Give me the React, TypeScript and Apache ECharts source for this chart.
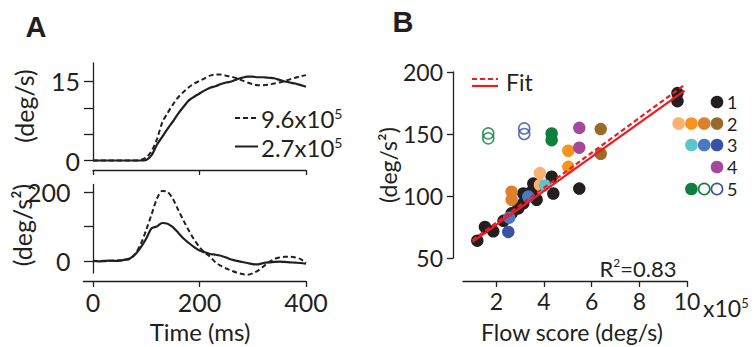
import React, { useEffect, useRef } from "react";
import * as echarts from "echarts";

const FONT = "Lato, 'Open Sans', sans-serif";
const INK = "#231f20";
const RED = "#ed1c24";

// Panel A: time (ms)
const times = [0, 10, 20, 30, 40, 50, 60, 70, 80, 90, 100, 110, 120, 130, 140, 150, 160, 170, 180, 190, 200, 210, 220, 230, 240, 250, 260, 270, 280, 290, 300, 310, 320, 330, 340, 350, 360, 370, 380, 390, 400];
// eye velocity (deg/s)
const velFast = [0, 0, 0, 0, 0, 0, 0, 0, 0, 0.1, 0.6, 1.8, 4.0, 7.2, 9.0, 10.6, 12.0, 13.0, 13.9, 14.6, 15.1, 15.6, 16.1, 16.3, 16.3, 16.1, 15.9, 15.6, 15.2, 14.8, 14.5, 14.3, 14.3, 14.4, 14.6, 14.8, 15.1, 15.4, 15.7, 16.0, 16.2];
const velSlow = [0, 0, 0, 0, 0, 0, 0, 0, 0, 0, 0.1, 1.0, 3.0, 4.5, 6.0, 7.4, 8.9, 10.2, 11.4, 12.1, 12.7, 13.3, 13.8, 14.1, 14.5, 14.8, 15.0, 15.4, 15.7, 15.9, 15.9, 15.8, 15.8, 15.7, 15.6, 15.3, 15.0, 14.8, 14.6, 14.3, 14.0];
// eye acceleration (deg/s^2)
const accFast = [0, 0, -1, 0, 1, 1, 3, 6, 22, 50, 90, 135, 180, 203, 200, 180, 148, 117, 88, 62, 40, 24, 12, -4, -14, -22, -28, -34, -38, -40, -36, -28, -16, -4, 5, 10, 12, 12, 10, 5, -6];
const accSlow = [0, -1, 0, 1, 0, 1, 4, 8, 20, 40, 65, 95, 100, 110, 108, 98, 82, 65, 52, 40, 30, 25, 20, 18, 15, 10, 4, 0, -3, -6, -9, -10, -6, -4, -3, -2, -3, -4, -5, -6, -8];

const velTicks = [0, 5, 10, 15];
const velLabels = [0, 15];
const accTicks = [0, 100, 200];
const accLabels = [0, 200];
const timeTicks = [0, 200, 400];

// Panel B: flow score (x10^5 deg/s) vs acceleration (deg/s^2)
const group1Black = [[1.2, 64], [1.52, 75], [1.87, 71.5], [2.3, 80], [2.64, 86], [2.92, 90], [3.13, 94], [3.13, 102], [3.48, 103.5], [3.55, 110], [3.69, 97], [4.32, 115.5], [4.39, 102], [5.48, 106], [9.6, 183], [9.6, 176.5]];
const group2LightOrange = [[3.83, 118.5], [3.83, 109]];
const group2Orange = [[5.02, 136.5], [5.02, 123.5]];
const group2DarkOrange = [[2.64, 103.5], [2.64, 97]];
const group2Brown = [[6.38, 154], [6.38, 134]];
const group3Teal = [[4.04, 108.5]];
const group3Blue = [[2.54, 82.5], [3.34, 99.5]];
const group3DarkBlue = [[2.5, 71]];
const group4Purple = [[5.48, 155], [5.48, 139]];
const group5Green = [[4.32, 150.5], [4.32, 145]];
const group5GreenOpen = [[1.66, 150.5], [1.66, 146.5]];
const group5BlueOpen = [[3.17, 154.5], [3.17, 150]];
const fitSolid = [[1.0, 63], [9.9, 185]];
const fitDashed = [[1.0, 64.5], [9.85, 189]];
const flowTicks = [2, 4, 6, 8, 10];
const accTicksB = [50, 100, 150, 200];
const rSquared = "0.83";

const C = {
  black: INK,
  lightOrange: "#fbb26f",
  orange: "#f7941d",
  darkOrange: "#df7f2b",
  brown: "#9a6a2b",
  teal: "#5dc4cc",
  blue: "#4a78c2",
  darkBlue: "#3a52a4",
  purple: "#a5489c",
  green: "#0d7f3f",
};

const legendRows = [
  { label: "1", dots: [{ c: C.black, open: false }] },
  { label: "2", dots: [{ c: C.lightOrange, open: false }, { c: C.orange, open: false }, { c: C.darkOrange, open: false }, { c: C.brown, open: false }] },
  { label: "3", dots: [{ c: C.teal, open: false }, { c: C.blue, open: false }, { c: C.darkBlue, open: false }] },
  { label: "4", dots: [{ c: C.purple, open: false }] },
  { label: "5", dots: [{ c: C.green, open: false }, { c: C.green, open: true }, { c: C.darkBlue, open: true }] },
];

const pairs = (xs: number[], ys: number[]) => xs.map((x, i) => [x, ys[i]]);

const supText = (base: string, sup: string, size: number, supSize: number, lh: number) => ({
  text: "{a|" + base + "}{s|" + sup + "}",
  fill: INK,
  align: "left",
  verticalAlign: "middle",
  rich: {
    a: { fontSize: size, fontFamily: FONT, lineHeight: lh },
    s: { fontSize: supSize, fontFamily: FONT, lineHeight: supSize + 2, verticalAlign: "top" },
  },
});

export default function App() {
  const ref = useRef<HTMLDivElement>(null);
  useEffect(() => {
    if (!ref.current) return;
    const chart = echarts.init(ref.current, null, { renderer: "svg" });
    const axisLine = { lineStyle: { color: INK, width: 1.3 } };
    const tickStyle = { color: INK, width: 1.3 };

    const scatter = (data: number[][], color: string, open = false, z = 3) => ({
      type: "scatter",
      xAxisIndex: 2,
      yAxisIndex: 2,
      data,
      symbol: "circle",
      symbolSize: open ? 11 : 12.5,
      z,
      itemStyle: open
        ? { color: "rgba(0,0,0,0)", borderColor: color, borderWidth: 1.6 }
        : { color, opacity: 1 },
    });

    const graphic: any[] = [
      { type: "text", x: 36, y: 27, style: { text: "A", fontSize: 29, fontWeight: "bold", fontFamily: "Arial, 'Liberation Sans', sans-serif", fill: INK, align: "center", verticalAlign: "middle" } },
      { type: "text", x: 403, y: 22, style: { text: "B", fontSize: 29, fontWeight: "bold", fontFamily: "Arial, 'Liberation Sans', sans-serif", fill: INK, align: "center", verticalAlign: "middle" } },
      { type: "text", x: 24, y: 106, rotation: Math.PI / 2, style: { text: "(deg/s)", fontSize: 25, fontFamily: FONT, fill: INK, align: "center", verticalAlign: "middle" } },
      { type: "text", x: 22, y: 225, rotation: Math.PI / 2, style: { text: "(deg/s²)", fontSize: 25, fontFamily: FONT, fill: INK, align: "center", verticalAlign: "middle" } },
      { type: "text", x: 200, y: 331, style: { text: "Time (ms)", fontSize: 24, fontFamily: FONT, fill: INK, align: "center", verticalAlign: "middle" } },
      { type: "text", x: 388, y: 165, rotation: Math.PI / 2, style: { text: "(deg/s²)", fontSize: 23, fontFamily: FONT, fill: INK, align: "center", verticalAlign: "middle" } },
      { type: "text", x: 572, y: 332, style: { text: "Flow score (deg/s)", fontSize: 23, fontFamily: FONT, fill: INK, align: "center", verticalAlign: "middle" } },
      { type: "text", x: 638, y: 268, style: { ...supText("R", "2", 22, 12, 24), text: "{a|R}{s|2}{a|=" + rSquared + "}", align: "center" } },
      { type: "text", x: 703, y: 308, style: supText("x10", "5", 23, 13, 24) },
      // Panel A legend
      { type: "line", shape: { x1: 235, y1: 118, x2: 258, y2: 118 }, style: { stroke: INK, lineWidth: 2, lineDash: [5, 3] } },
      { type: "text", x: 261, y: 118.5, style: supText("9.6x10", "5", 24, 14, 24) },
      { type: "line", shape: { x1: 235, y1: 146.5, x2: 258, y2: 146.5 }, style: { stroke: INK, lineWidth: 2 } },
      { type: "text", x: 261, y: 147, style: supText("2.7x10", "5", 24, 14, 24) },
      // Panel B fit legend
      { type: "line", shape: { x1: 472, y1: 79, x2: 498, y2: 79 }, style: { stroke: RED, lineWidth: 2.2, lineDash: [5, 3] } },
      { type: "line", shape: { x1: 472, y1: 86, x2: 498, y2: 86 }, style: { stroke: RED, lineWidth: 2.2 } },
      { type: "text", x: 506, y: 82, style: { text: "Fit", fontSize: 23, fontFamily: FONT, fill: INK, align: "left", verticalAlign: "middle" } },
    ];
    const rowY = [102, 123.5, 145, 167, 189];
    legendRows.forEach((row, r) => {
      const n = row.dots.length;
      row.dots.forEach((d, i) => {
        const cx = 717 - (n - 1 - i) * 12.8;
        graphic.push({
          type: "circle",
          shape: { cx, cy: rowY[r], r: d.open ? 5.6 : 6.3 },
          style: d.open ? { fill: "none", stroke: d.c, lineWidth: 1.6 } : { fill: d.c },
        });
      });
      graphic.push({ type: "text", x: 727, y: rowY[r], style: { text: row.label, fontSize: 18, lineHeight: 18, fontFamily: FONT, fill: INK, align: "left", verticalAlign: "middle" } });
    });

    const option: any = {
      animation: false,
      textStyle: { fontFamily: FONT },
      grid: [
        { left: 93, top: 63, width: 213, height: 97.5 },
        { left: 83.4, top: 184.4, width: 222.6, height: 88.6 },
        { left: 463, top: 72, width: 224, height: 186 },
      ],
      xAxis: [
        { type: "value", gridIndex: 0, min: 0, max: 400, offset: 9.5, axisLine: { onZero: false, ...axisLine }, axisTick: { customValues: timeTicks, length: 5, lineStyle: tickStyle }, axisLabel: { show: false }, splitLine: { show: false } },
        { type: "value", gridIndex: 1, min: -18, max: 400, offset: 8, axisLine: { onZero: false, ...axisLine }, axisTick: { customValues: timeTicks, length: 6, lineStyle: tickStyle }, axisLabel: { customValues: timeTicks, fontSize: 25, color: INK, fontFamily: FONT, margin: 8 }, splitLine: { show: false } },
        { type: "value", gridIndex: 2, min: 0.6, max: 10, offset: 23, axisLine: { onZero: false, ...axisLine }, axisTick: { customValues: flowTicks, length: 6, lineStyle: tickStyle }, axisLabel: { customValues: flowTicks, fontSize: 23, color: INK, fontFamily: FONT, margin: 8 }, splitLine: { show: false } },
      ],
      yAxis: [
        { type: "value", gridIndex: 0, min: 0, max: 18.5, axisLine: { onZero: true, ...axisLine }, axisTick: { customValues: velTicks, length: 9, lineStyle: tickStyle }, axisLabel: { customValues: velLabels, fontSize: 25, color: INK, fontFamily: FONT, margin: 13 }, splitLine: { show: false } },
        { type: "value", gridIndex: 1, min: -35, max: 222, axisLine: { onZero: true, ...axisLine }, axisTick: { customValues: accTicks, length: 9, lineStyle: tickStyle }, axisLabel: { customValues: accLabels, fontSize: 25, color: INK, fontFamily: FONT, margin: 13 }, splitLine: { show: false } },
        { type: "value", gridIndex: 2, min: 50, max: 200, offset: 10, axisLine: { onZero: false, ...axisLine }, axisTick: { customValues: accTicksB, length: 6, lineStyle: tickStyle }, axisLabel: { customValues: accTicksB, fontSize: 23, color: INK, fontFamily: FONT, margin: 10 }, splitLine: { show: false } },
      ],
      series: [
        { type: "line", xAxisIndex: 0, yAxisIndex: 0, data: pairs(times, velFast), showSymbol: false, smooth: 0.3, clip: false, lineStyle: { color: INK, width: 2, type: [5, 3] } },
        { type: "line", xAxisIndex: 0, yAxisIndex: 0, data: pairs(times, velSlow), showSymbol: false, smooth: 0.3, clip: false, lineStyle: { color: INK, width: 2.2 } },
        { type: "line", xAxisIndex: 1, yAxisIndex: 1, data: pairs(times, accFast), showSymbol: false, smooth: 0.3, clip: false, lineStyle: { color: INK, width: 2, type: [5, 3] } },
        { type: "line", xAxisIndex: 1, yAxisIndex: 1, data: pairs(times, accSlow), showSymbol: false, smooth: 0.3, clip: false, lineStyle: { color: INK, width: 2.2 } },
        scatter(group1Black, C.black, false, 2),
        scatter(group2LightOrange, C.lightOrange),
        scatter(group2Orange, C.orange),
        scatter(group2DarkOrange, C.darkOrange),
        scatter(group2Brown, C.brown),
        scatter(group3Teal, C.teal),
        scatter(group3Blue, C.blue),
        scatter(group3DarkBlue, C.darkBlue),
        scatter(group4Purple, C.purple),
        scatter(group5Green, C.green),
        scatter(group5GreenOpen, C.green, true),
        scatter(group5BlueOpen, C.darkBlue, true),
        { type: "line", xAxisIndex: 2, yAxisIndex: 2, data: fitSolid, showSymbol: false, clip: false, z: 5, lineStyle: { color: RED, width: 2.2 } },
        { type: "line", xAxisIndex: 2, yAxisIndex: 2, data: fitDashed, showSymbol: false, clip: false, z: 5, lineStyle: { color: RED, width: 2.2, type: [5, 3] } },
      ],
      graphic,
    };
    chart.setOption(option);
    return () => chart.dispose();
  }, []);
  return <div ref={ref} style={{ position: "absolute", left: 0, top: 0, width: 756, height: 347, background: "#fff" }} />;
}
